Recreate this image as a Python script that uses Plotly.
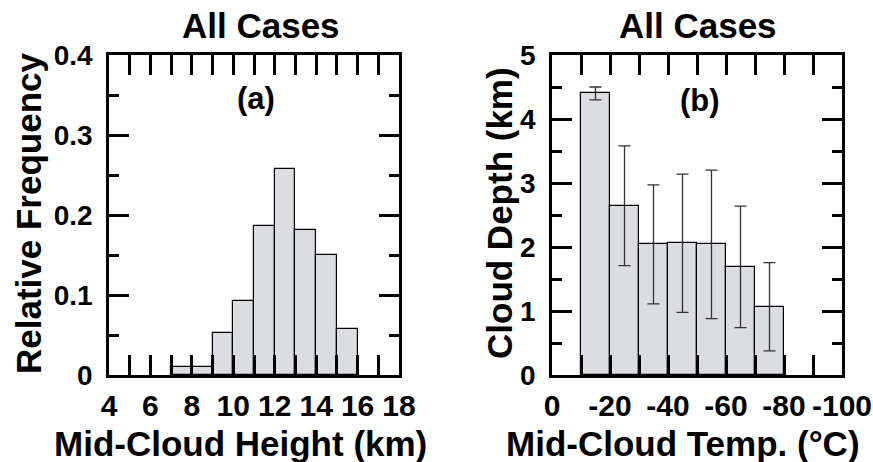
import plotly.graph_objects as go

# Panel (a): relative frequency of mid-cloud height, 1-km bins (lower bin edges)
height_bin_lower = [7, 8, 9, 10, 11, 12, 13, 14, 15]
rel_freq = [0.010, 0.010, 0.052, 0.093, 0.186, 0.258, 0.181, 0.150, 0.057]

# Panel (b): mean cloud depth per 10-degree mid-cloud temperature bin (bin centres)
temp_bin_center = [-15, -25, -35, -45, -55, -65, -75]
depth_mean = [4.40, 2.645, 2.04, 2.06, 2.04, 1.69, 1.067]
depth_err = [0.10, 0.935, 0.93, 1.08, 1.16, 0.95, 0.69]

# Tick labels
height_ticks = [4, 6, 8, 10, 12, 14, 16, 18]
freq_ticks = [0, 0.1, 0.2, 0.3, 0.4]
freq_tick_text = ["0", "0.1", "0.2", "0.3", "0.4"]
temp_ticks = [0, -20, -40, -60, -80, -100]
temp_tick_text = ["0", "-20", "-40", "-60", "-80", "-100"]
depth_ticks = [0, 1, 2, 3, 4, 5]

FONT = "Liberation Sans, Arial, Helvetica, sans-serif"
BAR_FILL = "#dcdde0"

fig = go.Figure()

fig.add_trace(go.Bar(
    x=height_bin_lower, y=rel_freq, width=1, offset=0,
    marker=dict(color=BAR_FILL, line=dict(color="black", width=1.2)),
    xaxis="x", yaxis="y", showlegend=False,
))

fig.add_trace(go.Bar(
    x=temp_bin_center, y=depth_mean, width=10,
    marker=dict(color=BAR_FILL, line=dict(color="black", width=1.2)),
    error_y=dict(type="data", array=depth_err, visible=True,
                 color="#333333", thickness=1.3, width=6),
    xaxis="x2", yaxis="y2", showlegend=False,
))

W, H = 873, 462
px = lambda v: v / W
py = lambda v: 1 - v / H

axis_common = dict(
    showline=True, linecolor="black", linewidth=2.5, mirror="allticks",
    ticks="inside", tickwidth=2.5, tickcolor="black", ticklen=20,
    showgrid=False, zeroline=False, fixedrange=True, automargin=False,
)
xfont = dict(family=FONT, size=30, color="black", weight="bold")
yfont = dict(family=FONT, size=28, color="black", weight="bold")
minor_style = dict(tickwidth=2.5, tickcolor="black", ticks="inside")

fig.update_layout(
    template="none",
    width=W, height=H,
    margin=dict(l=0, r=0, t=0, b=0, autoexpand=False),
    paper_bgcolor="white", plot_bgcolor="white",
    bargap=0,
    xaxis=dict(domain=[px(109), px(399)], range=[4, 18],
               tickmode="array", tickvals=height_ticks,
               ticklabelstandoff=2, tickfont=xfont,
               minor=dict(dtick=1, tick0=4, ticklen=20, **minor_style),
               anchor="y", **axis_common),
    yaxis=dict(domain=[py(375), py(55)], range=[0, 0.4],
               tickmode="array", tickvals=freq_ticks, ticktext=freq_tick_text,
               ticklabelstandoff=8, tickfont=yfont,
               minor=dict(dtick=0.05, tick0=0, ticklen=10, **minor_style),
               anchor="x", **axis_common),
    xaxis2=dict(domain=[px(552), px(842)], range=[0, -100],
                tickmode="array", tickvals=temp_ticks, ticktext=temp_tick_text,
                ticklabelstandoff=2, tickfont=xfont,
                minor=dict(dtick=10, tick0=0, ticklen=20, **minor_style),
                anchor="y2", **axis_common),
    yaxis2=dict(domain=[py(375), py(55)], range=[0, 5],
                tickmode="array", tickvals=depth_ticks,
                ticklabelstandoff=8, tickfont=yfont,
                minor=dict(dtick=0.5, tick0=0, ticklen=10, **minor_style),
                anchor="x2", **axis_common),
)

def label(text, x, y, size, angle=0):
    fig.add_annotation(
        text=text, x=px(x), y=py(y), xref="paper", yref="paper",
        xanchor="center", yanchor="middle", showarrow=False, textangle=angle,
        font=dict(family=FONT, size=size, color="black", weight="bold"),
    )

# Titles
label("All Cases", 261, 25, 35)
label("All Cases", 698, 25, 35)
# Panel tags
label("(a)", 256, 98, 31)
label("(b)", 700, 100, 31)
# Axis titles
label("Mid-Cloud Height (km)", 240, 443, 35)
label("Mid-Cloud Temp. (°C)", 683, 443, 35)
label("Relative Frequency", 28, 214, 35, -90)
label("Cloud Depth (km)", 499, 213, 35, -90)

fig.write_html("out.html")
